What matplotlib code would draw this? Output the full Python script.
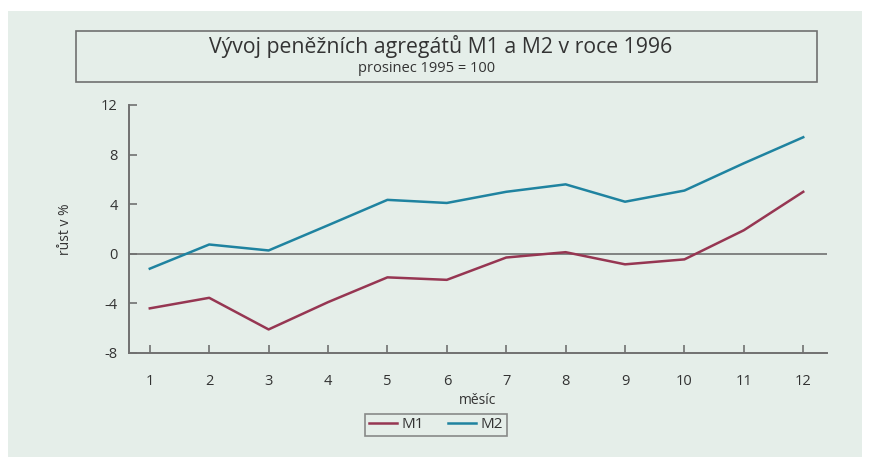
import numpy as np
import matplotlib.pyplot as plt
from matplotlib.patches import Rectangle

plt.rcParams['font.family'] = ['Open Sans', 'DejaVu Sans']
plt.rcParams['axes.unicode_minus'] = False

months = [1, 2, 3, 4, 5, 6, 7, 8, 9, 10, 11, 12]
m1 = [-4.4, -3.55, -6.1, -3.9, -1.9, -2.1, -0.3, 0.13, -0.85, -0.45, 1.9, 5.0]
m2 = [-1.2, 0.75, 0.27, 2.3, 4.35, 4.1, 5.0, 5.6, 4.2, 5.1, 7.3, 9.4]
yticks = [-8, -4, 0, 4, 8, 12]

bg = '#e5eee9'
gray = '#707070'
c_m1 = '#963652'
c_m2 = '#1f83a0'

W, H = 874, 457
fig = plt.figure(figsize=(W / 100, H / 100), dpi=100, facecolor='white')

# paper area (scan leaves a white strip at the edges)
fig.patches.append(Rectangle((8 / W, 0), (862 - 8) / W, 1 - 11 / H,
                             transform=fig.transFigure, facecolor=bg,
                             edgecolor='none', zorder=-5))

# title box
fig.patches.append(Rectangle((76 / W, 1 - 82 / H), (817 - 76) / W, 51 / H,
                             transform=fig.transFigure, facecolor='none',
                             edgecolor=gray, lw=1.2, zorder=1))
fig.text(441 / W, 1 - 46 / H, 'Vývoj peněžních agregátů M1 a M2 v roce 1996',
         ha='center', va='center', fontsize=15.3, color='#333333')
fig.text(427 / W, 1 - 69 / H, 'prosinec 1995 = 100',
         ha='center', va='center', fontsize=10.5, color='#333333')

ax = fig.add_axes([129 / W, 1 - 353 / H, (827 - 129) / W, (353 - 105) / H])
ax.set_facecolor('none')
ax.set_zorder(3)

ax.plot(months, m1, color=c_m1, lw=1.8, label='M1')
ax.plot(months, m2, color=c_m2, lw=1.8, label='M2')
ax.axhline(0, color=gray, lw=1.2, zorder=0)

ax.set_xlim(0.65, 12.4)
ax.set_ylim(-8, 12)
ax.set_xticks(months)
ax.set_yticks(yticks)
for s in ['top', 'right']:
    ax.spines[s].set_visible(False)
for s in ['left', 'bottom']:
    ax.spines[s].set_color(gray)
    ax.spines[s].set_linewidth(1.4)
ax.tick_params(axis='x', direction='in', length=6, width=1.2, color=gray,
               labelsize=10.5, labelcolor='#333333', pad=15)
ax.tick_params(axis='y', direction='in', length=6, width=1.2, color=gray,
               labelsize=10.5, labelcolor='#333333', pad=8)

ax.set_xlabel('měsíc', fontsize=10, color='#333333', labelpad=3)
ax.set_ylabel('růst v %', fontsize=10, color='#333333', labelpad=20)

leg = fig.legend(loc='center', bbox_to_anchor=(436 / W, 1 - 425 / H), ncol=2,
                 frameon=True, fancybox=False, fontsize=11, handlelength=1.8,
                 handletextpad=0.3, columnspacing=1.6, borderpad=0.25)
leg.get_frame().set_edgecolor(gray)
leg.get_frame().set_facecolor(bg)
leg.get_frame().set_linewidth(1.2)
for t in leg.get_texts():
    t.set_color('#333333')

fig.savefig('out.png', dpi=100, facecolor=fig.get_facecolor())
